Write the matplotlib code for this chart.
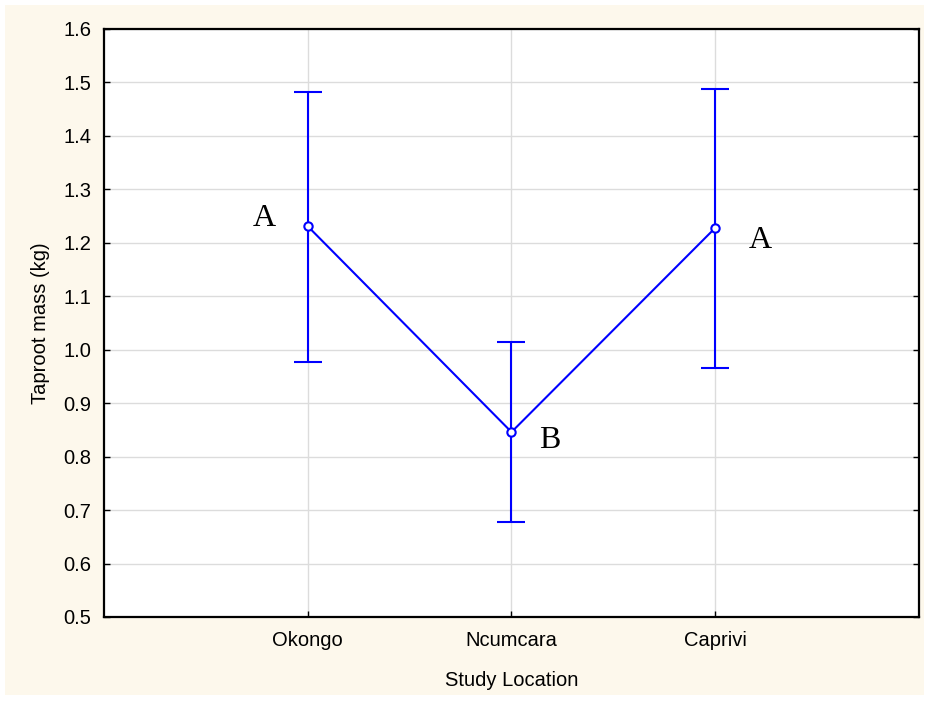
import matplotlib
matplotlib.use("Agg")
import matplotlib.pyplot as plt
from matplotlib.patches import Rectangle

locations = ["Okongo", "Ncumcara", "Caprivi"]
means = [1.231, 0.846, 1.228]
upper = [1.483, 1.014, 1.488]
lower = [0.977, 0.678, 0.966]
letters = ["A", "B", "A"]
yticks = [0.5, 0.6, 0.7, 0.8, 0.9, 1.0, 1.1, 1.2, 1.3, 1.4, 1.5, 1.6]

W, H = 928, 702
fig = plt.figure(figsize=(W / 100, H / 100), dpi=100, facecolor="white")
fig.patches.append(Rectangle((5 / W, 7 / H), 919 / W, 690 / H,
                             transform=fig.transFigure, facecolor="#FDF8EC",
                             edgecolor="none", zorder=-10))

ax = fig.add_axes([104 / W, 1 - 617 / H, 815 / W, 588 / H])
ax.set_facecolor("white")

x = list(range(1, len(locations) + 1))
err_lo = [m - l for m, l in zip(means, lower)]
err_hi = [u - m for m, u in zip(means, upper)]
ax.errorbar(x, means, yerr=[err_lo, err_hi], color="#0000FF", lw=1.5,
            elinewidth=1.5, capsize=10, capthick=1.5, marker="o",
            markersize=6, markerfacecolor="white", markeredgecolor="#0000FF",
            markeredgewidth=1.5, zorder=3)

offsets = [(-0.215, 0.015), (0.19, -0.015), (0.22, -0.023)]
for xi, m, lab, (dx, dy) in zip(x, means, letters, offsets):
    ax.text(xi + dx, m + dy, lab, fontsize=23, family="Liberation Serif",
            ha="center", va="center", color="black")

ax.set_xlim(0, 4)
ax.set_ylim(0.5, 1.6)
ax.set_xticks(x)
ax.set_xticklabels(locations)
ax.set_yticks(yticks)
ax.set_yticklabels([f"{v:.1f}" for v in yticks])
ax.grid(True, color="#DCDCDC", lw=1)
ax.set_axisbelow(True)

for s in ax.spines.values():
    s.set_linewidth(1.6)
    s.set_color("black")

ax.tick_params(direction="in", length=4, width=1, colors="black",
               labelsize=14.5, right=True, left=True, bottom=True, top=False)
ax.tick_params(axis="x", pad=10)
ax.tick_params(axis="y", pad=9)
for lab in ax.get_xticklabels() + ax.get_yticklabels():
    lab.set_family("Liberation Sans")

ax.set_xlabel("Study Location", fontsize=14.5, family="Liberation Sans",
              labelpad=15)
ax.set_ylabel("Taproot mass (kg)", fontsize=14.5, family="Liberation Sans",
              labelpad=10)

fig.savefig("out.png", dpi=100, facecolor=fig.get_facecolor())
